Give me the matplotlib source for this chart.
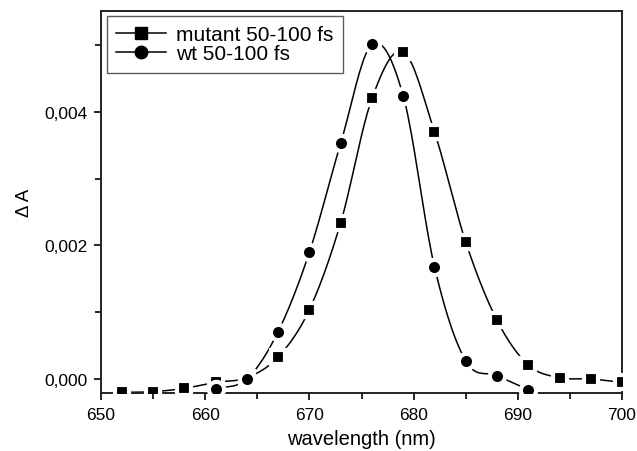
import numpy as np
import matplotlib
matplotlib.use("Agg")
import matplotlib.pyplot as plt
from matplotlib.ticker import MultipleLocator, FuncFormatter

plt.rcParams['font.family'] = ['Liberation Sans', 'DejaVu Sans']

mutant_x = [652, 655, 658, 661, 664, 667, 670, 673, 676, 679, 682, 685, 688, 691, 694, 697, 700]
mutant_y = [-0.00020, -0.00019, -0.00014, -0.00005, 0.00002, 0.00033, 0.00104, 0.00234,
            0.00420, 0.00490, 0.00370, 0.00205, 0.00088, 0.00021, 0.00002, 0.00000, -0.00005]
wt_x = [661, 664, 667, 670, 673, 676, 679, 682, 685, 688, 691]
wt_y = [-0.00015, 0.00000, 0.00071, 0.00190, 0.00353, 0.00501, 0.00424, 0.00168, 0.00027, 0.00005, -0.00016]
labels = ["mutant 50-100 fs", "wt 50-100 fs"]


def smooth(x, y, n=20):
    x = np.asarray(x, float); y = np.asarray(y, float)
    px = np.concatenate([[2*x[0]-x[1]], x, [2*x[-1]-x[-2]]])
    py = np.concatenate([[2*y[0]-y[1]], y, [2*y[-1]-y[-2]]])
    xs, ys = [], []
    for i in range(1, len(px)-2):
        t = np.linspace(0, 1, n, endpoint=False)
        for arr, out in ((px, xs), (py, ys)):
            p0, p1, p2, p3 = arr[i-1], arr[i], arr[i+1], arr[i+2]
            out.append(0.5*((2*p1) + (-p0+p2)*t + (2*p0-5*p1+4*p2-p3)*t**2 + (-p0+3*p1-3*p2+p3)*t**3))
    xs.append([x[-1]]); ys.append([y[-1]])
    return np.concatenate(xs), np.concatenate(ys)


fig = plt.figure(figsize=(6.37, 4.52), dpi=100)
ax = fig.add_axes([0.1586, 0.1283, 0.9765-0.1586, 0.9735-0.1283])

for xs, ys, mk, ms, lab in ((mutant_x, mutant_y, 's', 10, labels[0]), (wt_x, wt_y, 'o', 11, labels[1])):
    sx, sy = smooth(xs, ys)
    ax.plot(sx, sy, color='black', lw=1.1, zorder=2)
    ax.plot(xs, ys, linestyle='none', marker=mk, ms=ms, mfc='black', mec='white', mew=3, zorder=3)
    ax.plot([], [], color='black', lw=1.1, marker=mk, ms=ms-2, mfc='black', mec='black', label=lab)

ax.set_xlim(650, 700)
ax.set_ylim(-0.00021, 0.00551)
ax.xaxis.set_major_locator(MultipleLocator(10))
ax.xaxis.set_minor_locator(MultipleLocator(5))
ax.yaxis.set_major_locator(MultipleLocator(0.002))
ax.yaxis.set_minor_locator(MultipleLocator(0.001))
ax.yaxis.set_major_formatter(FuncFormatter(lambda v, p: f"{v:.3f}".replace('.', ',').replace('-0,000', '0,000')))
ax.tick_params(which='both', direction='out', top=False, right=False, colors='black', labelsize=12.5, width=1.2)
ax.tick_params(which='major', length=5, pad=5)
ax.tick_params(which='minor', length=4)
for s in ax.spines.values():
    s.set_linewidth(1.4)
    s.set_color('#222222')

ax.set_xlabel("wavelength (nm)", fontsize=14.5, labelpad=5)
ax.set_ylabel("Δ A", fontsize=13.5, labelpad=8)

leg = ax.legend(loc='upper left', bbox_to_anchor=(0.0115, 0.987), borderaxespad=0, fontsize=15, frameon=True,
                fancybox=False, edgecolor='#333333', handlelength=2.4, borderpad=0.45, labelspacing=0.0,
                handletextpad=0.45)
leg.get_frame().set_linewidth(1.0)

fig.savefig("out.png", dpi=100)
